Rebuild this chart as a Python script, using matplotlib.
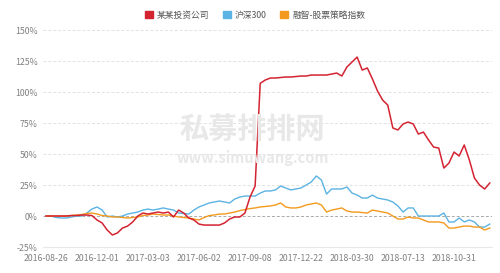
import matplotlib
matplotlib.use('Agg')
import matplotlib.pyplot as plt
import numpy as np

plt.rcParams['font.family'] = ['Noto Sans CJK SC', 'DejaVu Sans']

TICK_LABELS = ["2016-08-26", "2016-12-01", "2017-03-03", "2017-06-02", "2017-09-08",
               "2017-12-22", "2018-03-30", "2018-07-13", "2018-10-31"]
TICK_STEP = 10
SERIES_NAMES = ["某某投资公司", "沪深300", "融智-股票策略指数"]

fund = [0, 0, 0, 0, 0, 0.4, 0.4, 0.8, 0.8, 0.4,
        -3.2, -5.6, -11.3, -15.3, -13.7, -9.7, -8.1, -4.8, 0, 2.4,
        1.6, 2.4, 3.2, 2.4, 3.2, -0.8, 4.8, 2.4, -1.6, -3.2,
        -6.5, -7.3, -7.3, -7.3, -7.3, -5.6, -2.4, -0.8, -0.8, 2.4,
        15.3, 24.2, 107, 109.7, 111.3, 111.3, 111.7, 112.1, 112.1, 112.5,
        112.9, 112.9, 113.7, 113.7, 113.7, 113.7, 114.5, 115.3, 112.9, 120.2,
        124.2, 128.2, 117.7, 119.4, 110.5, 100.8, 93.5, 89.5, 71, 69.4,
        74.2, 75.8, 74.2, 66.1, 67.7, 61.3, 55.6, 54.8, 38.7, 42.7,
        51.6, 48.4, 57.3, 45.2, 30.6, 25, 21.8, 26.6]

hs300 = [0, 0, -1.2, -1.6, -1.6, -0.8, 0, 0, 2.4, 5.6,
         7.3, 4.8, -0.8, 0, -0.8, 0, 1.6, 2.4, 3.2, 4.8,
         5.6, 4.8, 5.6, 6.5, 5.6, 4.8, 2.4, 2.0, 1.6, 4.8,
         7.3, 8.9, 10.5, 11.3, 12.1, 11.3, 10.5, 13.7, 15.3, 16.1,
         16.1, 16.1, 18.5, 20.2, 20.2, 21, 24.2, 22.6, 21, 21.8,
         22.6, 25, 27.4, 32.3, 29, 17.7, 21.8, 21.8, 21.8, 23.4,
         18.5, 16.9, 14.5, 14.5, 16.9, 14.5, 13.7, 12.9, 11.3, 8.1,
         3.2, 6.5, 6.5, 0, 0, 0, 0, 0, 2.4, -4.8,
         -4.8, -1.6, -4.8, -3.2, -4.8, -8.9, -8.9, -6.5]

strategy = [0, 0, 0, 0, 0, 0.4, 0.8, 1.2, 2.0, 2.4,
            1.6, 0.4, 0, -0.8, -0.8, -1.2, -1.6, -1.2, -0.8, 0.4,
            0.8, 1.6, 1.2, 0.8, 0.8, 0, -0.8, -1.2, -1.6, -2.4,
            -3.2, -1.2, 0.4, 0.8, 1.6, 1.6, 2.4, 3.2, 4.4, 5.2,
            6.0, 6.5, 7.3, 7.7, 8.1, 8.9, 10.5, 7.3, 6.5, 6.5,
            7.3, 8.9, 9.7, 10.5, 8.9, 3.2, 4.8, 5.6, 6.5, 4.0,
            3.2, 3.2, 2.8, 2.4, 4.8, 4.0, 3.2, 2.4, 0, -2.4,
            -2.4, -0.8, -1.6, -1.6, -3.2, -4.8, -4.8, -4.8, -5.6, -9.7,
            -9.7, -8.9, -8.1, -8.1, -8.9, -8.9, -11.3, -9.7]

COLORS = ["#d42331", "#5bb3e3", "#f39a1e"]

fig = plt.figure(figsize=(5, 2.73), dpi=100)
ax = fig.add_axes([0.0869, 0.0952, 0.8977, 0.7948])

x = np.arange(len(fund))
ax.plot(x, fund, color=COLORS[0], lw=1.1, label=SERIES_NAMES[0], zorder=4)
ax.plot(x, hs300, color=COLORS[1], lw=1.0, label=SERIES_NAMES[1], zorder=3)
ax.plot(x, strategy, color=COLORS[2], lw=1.0, label=SERIES_NAMES[2], zorder=3)

yt = [-25, 0, 25, 50, 75, 100, 125, 150]
ax.set_ylim(-25, 150)
ax.set_xlim(-0.5, len(fund) - 0.5)
ax.set_yticks(yt)
ax.set_yticklabels([f"{v}%" for v in yt])
for v in yt[1:]:
    if v == 0:
        ax.axhline(v, color="#aaaaaa", lw=0.7, ls=(0, (3, 2)), zorder=1)
    else:
        ax.axhline(v, color="#e2e2e2", lw=0.7, ls=(0, (3, 2)), zorder=1)

ax.set_xticks(np.arange(0, TICK_STEP * len(TICK_LABELS), TICK_STEP))
ax.set_xticklabels(TICK_LABELS)
ax.tick_params(axis='both', length=0, labelsize=6.3, colors="#808080", pad=4)
ax.tick_params(axis='x', pad=5)
for s in ["top", "right", "left"]:
    ax.spines[s].set_visible(False)
ax.spines["bottom"].set_color("#e8e8e8")
ax.spines["bottom"].set_linewidth(0.8)

# watermark
fig.text(0.505, 0.525, "私募排排网", ha="center", va="center", fontsize=21,
         fontweight="bold", color="#e8e8e8", zorder=0)
fig.text(0.505, 0.42, "www.simuwang.com", ha="center", va="center", fontsize=10.5,
         fontweight="bold", color="#e8e8e8", zorder=0)

handles = [plt.Rectangle((0, 0), 1, 1, color=c) for c in COLORS]
leg = fig.legend(handles, SERIES_NAMES, loc="center", bbox_to_anchor=(0.51, 0.945),
                 ncol=3, frameon=False, fontsize=6.3, handlelength=0.9, handleheight=0.9,
                 handletextpad=0.5, columnspacing=1.5)
for t in leg.get_texts():
    t.set_color("#555555")

fig.savefig("out.png", dpi=100, facecolor="white")
